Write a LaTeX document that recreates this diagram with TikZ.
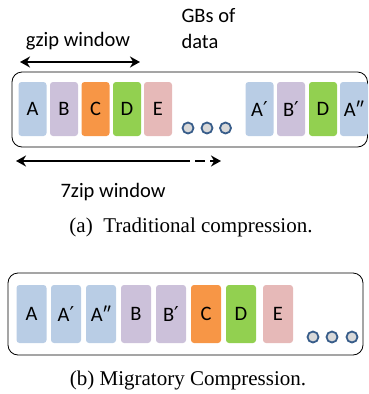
\documentclass[tikz,border=0pt]{standalone}
\usepackage{fontspec}
\setmainfont{Liberation Serif}
\setsansfont{Carlito}
\newfontfamily\primefont{DejaVu Sans}
\newcommand{\pr}{{\primefont ′}}
\usetikzlibrary{arrows.meta}

\definecolor{cblue}{HTML}{B9CDE5}
\definecolor{cpurple}{HTML}{CCC1DA}
\definecolor{corange}{HTML}{F79646}
\definecolor{cgreen}{HTML}{92D050}
\definecolor{cpink}{HTML}{E6B9B8}
\definecolor{dotline}{HTML}{385D8A}
\definecolor{dotfill}{HTML}{D9D9D9}

\begin{document}
\begin{tikzpicture}[x=1pt, y=-1pt,
    blk/.style={fill=#1, rounded corners=3pt, minimum width=28pt, minimum height=54pt,
        inner sep=0pt, font=\sffamily\fontsize{20.5}{22}\selectfont},
    dot/.style={circle, draw=dotline, fill=dotfill, line width=1.8pt, minimum size=11pt, inner sep=0pt},
    box/.style={draw, rounded corners=10pt, line width=0.8pt},
    lbl/.style={font=\sffamily\fontsize{20.5}{26}\selectfont},
    captext/.style={font=\fontsize{21}{24}\selectfont},
    warrow/.style={line width=2.2pt}]
    \useasboundingbox (0,0) rectangle (369,394);

    % 上の図
    \draw[box] (12,72) rectangle (367.5,147);

    \node[blk=cblue] (tA) at (32.5,109) {A};
    \node[blk=cpurple] (tB) at (64,109) {B};
    \node[blk=corange] (tC) at (95.5,109) {C};
    \node[blk=cgreen] (tD) at (127,109) {D};
    \node[blk=cpink] (tE) at (158,109) {E};

    \node[dot] (td1) at (188,128) {};
    \node[dot] (td2) at (207,128) {};
    \node[dot] (td3) at (225.5,128) {};

    \node[blk=cblue] (tAp) at (259.5,109) {A\pr};
    \node[blk=cpurple] (tBp) at (291,109) {B\pr};
    \node[blk=cgreen] (tDd) at (323,109) {D};
    \node[blk=cblue] (tApp) at (354,109) {A″};

    % ラベルと矢印
    \node[lbl] (gziplbl) at (78,41) {gzip window};
    \node[lbl, align=left, anchor=west] (gblbl) at (178,29) {GBs of\\data};

    \coordinate (gzl) at (20,62);
    \coordinate (gzr) at (140,62);
    \draw[warrow, {Stealth[length=10pt,width=11pt]}-{Stealth[length=10pt,width=11pt]}] (gzl) -- (gzr);

    \coordinate (szl) at (16,161);
    \coordinate (szm) at (180,161);
    \coordinate (szr) at (221,161);
    \draw[warrow, {Stealth[length=10pt,width=11pt]}-] (szl) -- (szm);
    \draw[warrow, dash pattern=on 10pt off 5pt, -{Stealth[length=10pt,width=11pt]}] (szm) -- (szr);

    \node[lbl] (szlbl) at (113,192) {7zip window};
    \node[captext] (capa) at (191,227) {(a)\enspace Traditional compression.};

    % 下の図
    \draw[box] (8,273) rectangle (363,355);

    \node[blk=cblue, minimum width=30pt, minimum height=58pt] (bA) at (31.5,314) {A};
    \node[blk=cblue, minimum width=30pt, minimum height=58pt] (bAp) at (66,314) {A\pr};
    \node[blk=cblue, minimum width=30pt, minimum height=58pt] (bApp) at (101,314) {A″};
    \node[blk=cpurple, minimum width=30pt, minimum height=58pt] (bB) at (136,314) {B};
    \node[blk=cpurple, minimum width=30pt, minimum height=58pt] (bBp) at (171,314) {B\pr};
    \node[blk=corange, minimum width=30pt, minimum height=58pt] (bC) at (206,314) {C};
    \node[blk=cgreen, minimum width=30pt, minimum height=58pt] (bD) at (241,314) {D};
    \node[blk=cpink, minimum width=30pt, minimum height=58pt] (bE) at (278,314) {E};

    \node[dot] (bd1) at (313,337) {};
    \node[dot] (bd2) at (332,337) {};
    \node[dot] (bd3) at (352,337) {};

    \node[captext] (capb) at (188,380) {(b) Migratory Compression.};
\end{tikzpicture}
\end{document}
